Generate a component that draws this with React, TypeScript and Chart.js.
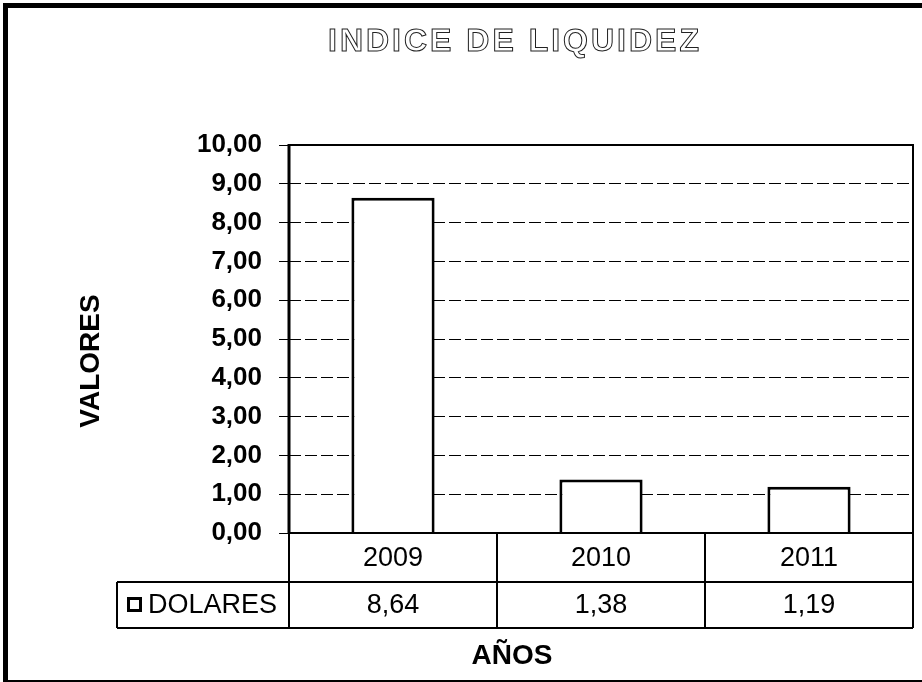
import React, { useEffect, useRef } from "react";
import { Chart, registerables } from "chart.js";

Chart.register(...registerables);

const title = "INDICE DE LIQUIDEZ";
const categories = ["2009", "2010", "2011"];
const seriesLabel = "DOLARES";
const dolares = [8.64, 1.38, 1.19];
const yAxisTitle = "VALORES";
const xAxisTitle = "AÑOS";
const yMin = 0;
const yMax = 10;
const yStep = 1;

const FONT = "'Liberation Sans', Arial, sans-serif";
const fmt = (v: number) => v.toFixed(2).replace(".", ",");

const decorPlugin = {
  id: "decor",
  afterDraw(chart: any) {
    const { ctx, chartArea } = chart;
    const { left, right, top, bottom } = chartArea;
    ctx.save();
    ctx.setLineDash([]);
    ctx.strokeStyle = "#000";
    ctx.fillStyle = "#000";

    // outer frame
    ctx.lineWidth = 5;
    ctx.beginPath();
    ctx.moveTo(5.5, 681);
    ctx.lineTo(5.5, 5.5);
    ctx.lineTo(922, 5.5);
    ctx.stroke();
    ctx.lineWidth = 2;
    ctx.beginPath();
    ctx.moveTo(3, 681);
    ctx.lineTo(922, 681);
    ctx.stroke();

    // plot frame
    ctx.lineWidth = 2;
    ctx.strokeRect(left, top, right - left, bottom - top);
    ctx.lineWidth = 3;
    ctx.beginPath();
    ctx.moveTo(left, top - 1);
    ctx.lineTo(left, bottom);
    ctx.stroke();

    // data table
    const n = categories.length;
    const colW = (right - left) / n;
    const row1B = bottom + 49;
    const row2B = row1B + 46;
    const legL = 117;
    ctx.lineWidth = 2;
    ctx.beginPath();
    ctx.moveTo(left, bottom);
    ctx.lineTo(left, row2B);
    ctx.moveTo(right, bottom);
    ctx.lineTo(right, row2B);
    for (let i = 1; i < n; i++) {
      ctx.moveTo(left + colW * i, bottom);
      ctx.lineTo(left + colW * i, row2B);
    }
    ctx.moveTo(legL, row1B);
    ctx.lineTo(right, row1B);
    ctx.moveTo(legL, row2B);
    ctx.lineTo(right, row2B);
    ctx.moveTo(legL, row1B);
    ctx.lineTo(legL, row2B);
    ctx.stroke();

    ctx.font = `27px ${FONT}`;
    ctx.textAlign = "center";
    ctx.textBaseline = "middle";
    const xs = chart.scales.x;
    categories.forEach((c, i) => {
      const cx = xs.getPixelForValue(i);
      ctx.fillText(c, cx, (bottom + row1B) / 2 + 1);
      ctx.fillText(fmt(dolares[i]), cx, (row1B + row2B) / 2 + 1);
    });

    // legend marker + label
    const my = (row1B + row2B) / 2;
    ctx.lineWidth = 3;
    ctx.strokeRect(128.5, my - 6.5, 12, 12);
    ctx.textAlign = "left";
    ctx.fillText(seriesLabel, 148, my + 1);

    // axis titles
    ctx.font = `bold 28px ${FONT}`;
    ctx.textAlign = "center";
    ctx.fillText(xAxisTitle, 512, 656);
    ctx.save();
    ctx.translate(91, 361);
    ctx.rotate(-Math.PI / 2);
    ctx.fillText(yAxisTitle, 0, 0);
    ctx.restore();

    // chart title (outlined)
    ctx.font = `bold 32px ${FONT}`;
    (ctx as any).letterSpacing = "3px";
    ctx.textAlign = "center";
    ctx.lineWidth = 1;
    ctx.strokeStyle = "#222";
    ctx.fillStyle = "#fff";
    ctx.fillText(title, 515, 42);
    ctx.strokeText(title, 515, 42);
    ctx.restore();
  },
};

export default function App() {
  const ref = useRef<HTMLCanvasElement>(null);
  useEffect(() => {
    document.body.style.margin = "0";
    const canvas = ref.current!;
    const chart = new Chart(canvas, {
      type: "bar",
      data: {
        labels: categories,
        datasets: [
          {
            label: seriesLabel,
            data: dolares,
            backgroundColor: "#fff",
            borderColor: "#000",
            borderWidth: 3,
            barPercentage: 0.4,
            categoryPercentage: 1,
          },
        ],
      },
      options: {
        responsive: false,
        animation: false,
        layout: { padding: { top: 145, bottom: 149, right: 9, left: 0 } },
        plugins: {
          legend: { display: false },
          tooltip: { enabled: false },
          title: { display: false },
        },
        scales: {
          x: { display: false },
          y: {
            min: yMin,
            max: yMax,
            afterFit: (s: any) => {
              s.width = 289;
            },
            ticks: {
              stepSize: yStep,
              padding: 17,
              color: "#000",
              font: { family: FONT, size: 26, weight: "bold" },
              callback: (v: any) => fmt(Number(v)),
            },
            grid: {
              color: "#000",
              lineWidth: 1,
              tickLength: 10,
              tickBorderDash: [],
            },
            border: { display: false, dash: [12, 4] },
          },
        },
      },
      plugins: [decorPlugin],
    });
    return () => chart.destroy();
  }, []);
  return <canvas ref={ref} width={922} height={682} style={{ display: "block" }} />;
}
